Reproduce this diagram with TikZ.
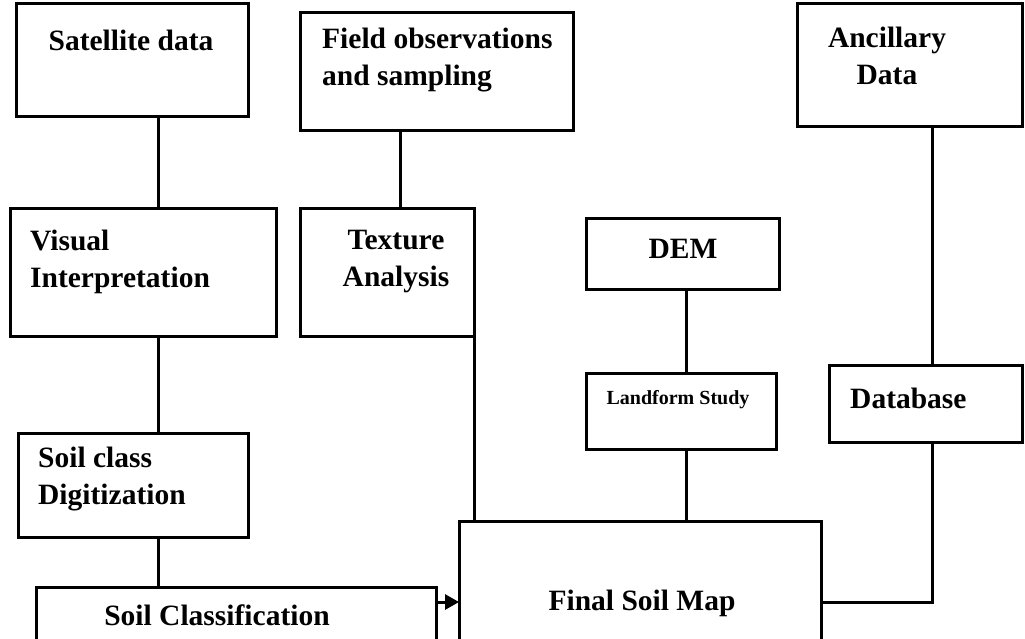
\documentclass[tikz,border=0pt]{standalone}
\usepackage{fontspec}
\setmainfont{Liberation Serif}
\usetikzlibrary{arrows.meta}

% a drawn, empty box given by left, top, right, bottom (y grows downward)
\newcommand\flowbox[5]{%
  \node[box, minimum width={#4-#2}, minimum height={#5-#3}]
    (#1) at ({(#2+#4)/2},{(#3+#5)/2}) {};}

\begin{document}
\begin{tikzpicture}[x=1pt, y=-1pt,
  box/.style={draw, line width=3pt, inner sep=0pt, outer sep=0pt},
  wire/.style={line width=3pt},
  lbl/.style={font=\bfseries\fontsize{29.5}{37}\selectfont, inner sep=0pt},
  smalllbl/.style={font=\bfseries\fontsize{20}{24}\selectfont, inner sep=0pt}]

\useasboundingbox (0,0) rectangle (1025,638);
\clip (0,0) rectangle (1025,638);
\fill[white] (0,0) rectangle (1025,638);

% boxes
\flowbox{sat}{16}{3}{248}{116}
\flowbox{field}{300}{12}{573}{130}
\flowbox{anc}{797}{3}{1022}{126}
\flowbox{vis}{10}{208}{276}{336}
\flowbox{tex}{300}{208}{474}{336}
\flowbox{dem}{586}{218}{779}{289}
\flowbox{land}{586}{373}{776}{449}
\flowbox{db}{829}{365}{1022}{442}
\flowbox{scd}{18}{433}{248}{537}
\flowbox{scl}{36}{587}{436}{680}
\flowbox{fin}{459}{521}{821}{680}

% texts
\node[lbl] (sat-t) at (131,40) {Satellite data};
\node[lbl, align=left, anchor=west] (field-t) at (322,60) {Field observations\\and sampling};
\node[lbl, align=center] (anc-t) at (887,56) {Ancillary\\Data};
\node[lbl, align=left, anchor=west] (vis-t) at (30,262) {Visual\\Interpretation};
\node[lbl, align=center] (tex-t) at (396,262) {Texture\\Analysis};
\node[lbl] (dem-t) at (683,249) {DEM};
\node[smalllbl] (land-t) at (678,400) {Landform Study};
\node[lbl, anchor=west] (db-t) at (850,398) {Database};
\node[lbl, align=left, anchor=west] (scd-t) at (38,479) {Soil class\\Digitization};
\node[lbl] (scl-t) at (217,615) {Soil Classification};
\node[lbl] (fin-t) at (642,603) {Final Soil Map};

% vertical positions of the connectors
\coordinate (lx1) at (158,0);
\coordinate (lx2) at (400,0);
\coordinate (lx3) at (932,0);
\coordinate (lx4) at (686,0);
\coordinate (ly1) at (0,602);

% connectors
\draw[wire] (sat.south -| lx1) -- (vis.north -| lx1);
\draw[wire] (vis.south -| lx1) -- (scd.north -| lx1);
\draw[wire] (scd.south -| lx1) -- (scl.north -| lx1);
\draw[wire] (field.south -| lx2) -- (tex.north -| lx2);
\draw[wire] (tex.south east) -- (fin.north -| tex.east);
\draw[wire] (dem.south -| lx4) -- (land.north -| lx4);
\draw[wire] (land.south -| lx4) -- (fin.north -| lx4);
\draw[wire] (anc.south -| lx3) -- (db.north -| lx3);
\draw[wire] (fin.east |- ly1) -| (db.south -| lx3);
\draw[wire, -{Triangle[length=14pt, width=15pt]}] (scl.east |- ly1) -- (fin.west |- ly1);

\end{tikzpicture}
\end{document}
